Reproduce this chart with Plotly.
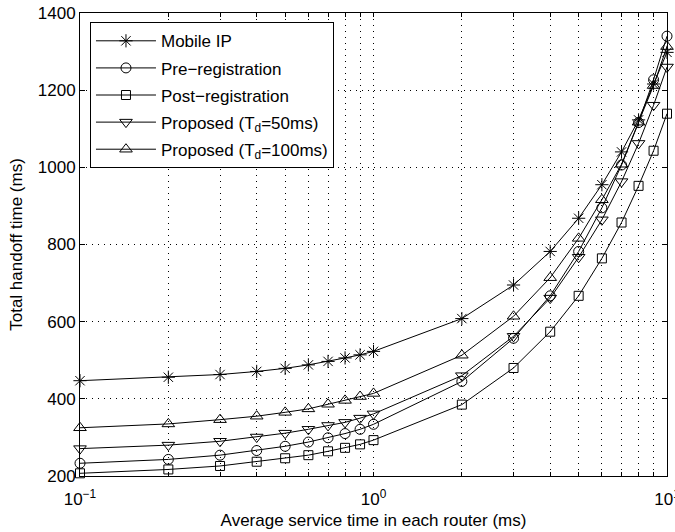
import plotly.graph_objects as go

x_vals = [0.1, 0.2, 0.3, 0.4, 0.5, 0.6, 0.7, 0.8, 0.9, 1, 2, 3, 4, 5, 6, 7, 8, 9, 10]

mobile_ip = [447, 456, 463, 471, 479, 488, 497, 506, 514, 523, 608, 695, 782, 868, 955, 1040, 1123, 1216, 1298]
pre_reg = [233, 243, 254, 266, 277, 288, 299, 310, 321, 334, 445, 557, 667, 782, 895, 1006, 1116, 1227, 1340]
post_reg = [207, 217, 226, 237, 246, 254, 264, 273, 282, 293, 385, 480, 574, 667, 764, 857, 952, 1043, 1139]
prop_50 = [271, 280, 290, 301, 311, 321, 331, 339, 350, 361, 460, 562, 661, 767, 864, 963, 1062, 1161, 1260]
prop_100 = [325, 335, 346, 355, 365, 374, 386, 396, 406, 414, 513, 614, 714, 816, 916, 1008, 1117, 1212, 1313]

series = [
    ("Mobile IP", mobile_ip, "asterisk-open", 11),
    ("Pre\u2212registration", pre_reg, "circle-open", 10),
    ("Post\u2212registration", post_reg, "square-open", 9),
    ("Proposed (T<sub>d</sub>=50ms)", prop_50, "triangle-down-open", 11),
    ("Proposed (T<sub>d</sub>=100ms)", prop_100, "triangle-up-open", 11),
]

x_tickvals = [0.1, 0.2, 0.3, 0.4, 0.5, 0.6, 0.7, 0.8, 0.9, 1, 2, 3, 4, 5, 6, 7, 8, 9, 10]
x_ticktext = ["10<sup>\u22121</sup>", "", "", "", "", "", "", "", "", "10<sup>0</sup>",
              "", "", "", "", "", "", "", "", "10<sup>1</sup>"]
y_tickvals = [200, 400, 600, 800, 1000, 1200, 1400]

FONT = "Liberation Sans, Arial, sans-serif"

fig = go.Figure()
for i, (name, vals, sym, sz) in enumerate(series):
    fig.add_trace(go.Scatter(
        x=x_vals, y=vals, name=name, mode="lines+markers",
        legendgroup="g%d" % i,
        line=dict(color="black", width=1),
        marker=dict(symbol=sym, size=sz, color="black", line=dict(color="black", width=1)),
        cliponaxis=False,
    ))

fig.update_layout(
    width=675, height=532,
    margin=dict(l=80, r=8, t=13, b=56),
    paper_bgcolor="white", plot_bgcolor="white",
    font=dict(family=FONT, size=17, color="black"),
    showlegend=True,
    legend=dict(
        x=0.017, y=0.98, xanchor="left", yanchor="top",
        bgcolor="white", bordercolor="black", borderwidth=1,
        font=dict(family=FONT, size=17, color="black"),
        itemwidth=60, tracegroupgap=2,
    ),
    xaxis=dict(
        type="log", range=[-1, 1], automargin=False,
        tickvals=x_tickvals, ticktext=x_ticktext,
        ticks="inside", ticklen=4, tickcolor="black",
        showline=True, linecolor="black", linewidth=1, mirror="ticks",
        showgrid=True, gridcolor="black", griddash="1px,5px", gridwidth=1,
        zeroline=False, ticklabelstandoff=8, ticklabeloverflow="allow",
        title=dict(text="Average service time in each router (ms)", standoff=5,
                   font=dict(size=17)),
        tickfont=dict(size=17),
    ),
    yaxis=dict(
        range=[200, 1400], automargin=False,
        tickvals=y_tickvals,
        ticks="inside", ticklen=5, tickcolor="black",
        showline=True, linecolor="black", linewidth=1, mirror="ticks",
        showgrid=True, gridcolor="black", griddash="1px,5px", gridwidth=1,
        zeroline=False,
        title=dict(text="Total handoff time (ms)", standoff=10, font=dict(size=17)),
        tickfont=dict(size=17),
    ),
)

fig.write_html("out.html", config={"displayModeBar": False},
               post_script="document.body.style.margin='0';document.body.style.overflow='hidden';")
